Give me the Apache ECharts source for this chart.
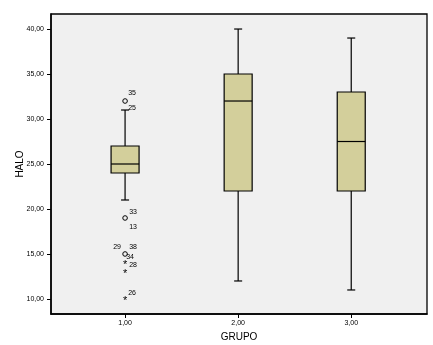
<!DOCTYPE html>
<html><head><meta charset="utf-8">
<script src="https://cdn.jsdelivr.net/npm/echarts@6/dist/echarts.min.js"></script>
<style>html,body{margin:0;padding:0;background:#fff}#c{width:433px;height:345px}</style>
</head><body><div id="c"></div>
<script>
// ---- data ----
const categories = [1, 2, 3];
const categoryLabels = ['1,00', '2,00', '3,00'];
// [min, Q1, median, Q3, max]
const boxValues = [
  [21, 24, 25, 27, 31],
  [12, 22, 32, 35, 40],
  [11, 22, 27.5, 33, 39]
];
// outliers: group, value, symbol type
const outlierGroup = [1, 1, 1, 1, 1, 1];
const outlierValue = [32, 19, 15, 14, 13, 10];
const outlierSymbol = ['o', 'o', 'o', '*', '*', '*'];
// case labels attached to outliers
const caseLabelText = ['35', '25', '33', '13', '29', '38', '34', '28', '26'];
const caseLabelOutlier = [0, 0, 1, 1, 2, 2, 2, 3, 5];
const yTicks = [10, 15, 20, 25, 30, 35, 40];

// ---- styling (offsets in px for case labels) ----
const caseLabelOffset = [[7, -8], [7, 7], [8, -6], [8, 9], [-8, -7], [8, -7], [5, 3], [8, 2], [7, -6]];

const fmt = v => v.toFixed(2).replace('.', ',');
const FONT = 'Liberation Sans, Arial, sans-serif';

const chart = echarts.init(document.getElementById('c'), null, {renderer: 'canvas'});
chart.setOption({
  animation: false,
  backgroundColor: '#ffffff',
  grid: {left: 51, top: 14, right: 6, bottom: 31, outerBoundsMode: 'none', containLabel: false, show: true, backgroundColor: '#f0f0f0', borderColor: '#000', borderWidth: 1.3},
  xAxis: {
    type: 'value', min: 0.345, max: 3.67,
    name: 'GRUPO', nameLocation: 'middle', nameGap: 18, nameMoveOverlap: false,
    nameTextStyle: {fontFamily: FONT, fontSize: 10, color: '#000'},
    axisLine: {show: true, onZero: false, lineStyle: {color: '#000', width: 1.5}},
    axisTick: {show: true, length: 4, customValues: categories, lineStyle: {color: '#000'}},
    axisLabel: {customValues: categories, formatter: v => categoryLabels[categories.indexOf(v)] || '', fontFamily: FONT, fontSize: 7, color: '#000', margin: 6},
    splitLine: {show: false}
  },
  yAxis: {
    type: 'value', min: 8.33, max: 41.67,
    name: 'HALO', nameLocation: 'middle', nameGap: 26, nameMoveOverlap: false,
    nameTextStyle: {fontFamily: FONT, fontSize: 10, color: '#000'},
    axisLine: {show: true, onZero: false, lineStyle: {color: '#000', width: 1.5}},
    axisTick: {show: true, length: 4, customValues: yTicks, lineStyle: {color: '#000'}},
    axisLabel: {customValues: yTicks, formatter: v => fmt(v), fontFamily: FONT, fontSize: 7, color: '#000', margin: 7},
    splitLine: {show: false}
  },
  series: [
    {
      type: 'custom',
      data: categories.map((c, i) => [c].concat(boxValues[i])),
      renderItem: function (params, api) {
        const x = api.value(0);
        const p = k => api.coord([x, api.value(k)]);
        const pMin = p(1), pQ1 = p(2), pMed = p(3), pQ3 = p(4), pMax = p(5);
        const half = 14, cap = 4;
        const cx = pMin[0];
        const ls = {stroke: '#000', lineWidth: 1.2};
        return {
          type: 'group',
          children: [
            {type: 'line', shape: {x1: cx, y1: pMax[1], x2: cx, y2: pQ3[1]}, style: ls},
            {type: 'line', shape: {x1: cx, y1: pQ1[1], x2: cx, y2: pMin[1]}, style: ls},
            {type: 'line', shape: {x1: cx - cap, y1: pMax[1], x2: cx + cap, y2: pMax[1]}, style: ls},
            {type: 'line', shape: {x1: cx - cap, y1: pMin[1], x2: cx + cap, y2: pMin[1]}, style: ls},
            {type: 'rect', shape: {x: cx - half, y: pQ3[1], width: half * 2, height: pQ1[1] - pQ3[1]}, style: {fill: '#d3cf9b', stroke: '#000', lineWidth: 1.2}},
            {type: 'line', shape: {x1: cx - half, y1: pMed[1], x2: cx + half, y2: pMed[1]}, style: ls}
          ]
        };
      }
    },
    {
      type: 'custom',
      data: outlierValue.map((v, i) => [outlierGroup[i], v, i]),
      renderItem: function (params, api) {
        const i = api.value(2);
        const pt = api.coord([api.value(0), api.value(1)]);
        const kids = [];
        if (outlierSymbol[i] === 'o') {
          kids.push({type: 'circle', shape: {cx: pt[0], cy: pt[1], r: 2.3}, style: {fill: 'none', stroke: '#000', lineWidth: 1}});
        } else {
          kids.push({type: 'text', x: pt[0], y: pt[1] + 2, style: {text: '*', fontFamily: FONT, fontSize: 11, fill: '#000', align: 'center', verticalAlign: 'middle'}});
        }
        caseLabelText.forEach((t, j) => {
          if (caseLabelOutlier[j] === i) {
            kids.push({type: 'text', x: pt[0] + caseLabelOffset[j][0], y: pt[1] + caseLabelOffset[j][1], style: {text: t, fontFamily: FONT, fontSize: 7, fill: '#000', align: 'center', verticalAlign: 'middle'}});
          }
        });
        return {type: 'group', children: kids};
      }
    }
  ]
});
</script></body></html>
